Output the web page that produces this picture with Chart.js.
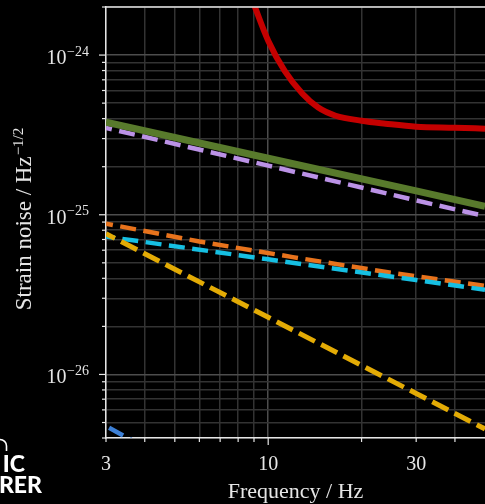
<!DOCTYPE html>
<html>
<head>
<meta charset="utf-8">
<script src="https://cdn.jsdelivr.net/npm/chart.js@4.4.1/dist/chart.umd.min.js"></script>
<style>
  html, body { margin: 0; padding: 0; background: #000; overflow: hidden; }
</style>
</head>
<body>
<canvas id="noiseChart" width="485" height="504"></canvas>
<script>
// strain noise curves (Hz, 1/sqrt(Hz))
const redFreq = [8.5, 9.08, 10, 11.3, 12.9, 14.5, 16.5, 20, 23.9, 30, 40, 50];
const redNoise = [2.8e-24, 1.98e-24, 1.23e-24, 7.97e-25, 5.73e-25, 4.69e-25, 4.17e-25, 3.88e-25, 3.72e-25, 3.56e-25, 3.51e-25, 3.46e-25];
const greenFreq = [3, 10, 30, 50];
const greenNoise = [3.8e-25, 2.26e-25, 1.41e-25, 1.13e-25];
const purpleFreq = [3, 10, 30, 50];
const purpleNoise = [3.5e-25, 2.03e-25, 1.23e-25, 9.8e-26];
const yellowFreq = [3, 10, 30, 50];
const yellowNoise = [7.6e-26, 2.28e-26, 7.6e-27, 4.56e-27];
const cyanFreq = [3, 10, 30, 50];
const cyanNoise = [7.3e-26, 5.26e-26, 3.9e-26, 3.39e-26];
const orangeFreq = [3, 6, 12, 24, 50];
const orangeNoise = [8.8e-26, 6.8e-26, 5.43e-26, 4.38e-26, 3.59e-26];
const blueFreq = [3, 4];
const blueNoise = [4.75e-27, 3.5e-27];

// axes
const xTicks = [3, 4, 5, 6, 7, 8, 9, 10, 20, 30, 40];
const xMajor = [10];
const xLabelValues = [3, 10, 30];
const xLabelText = ['3', '10', '30'];
const yMajor = [1e-26, 1e-25, 1e-24];
const yExponents = ['\u221226', '\u221225', '\u221224'];
const yTicks = [];
[1e-27, 1e-26, 1e-25, 1e-24].forEach(d => {
  for (let m = 1; m <= 9; m++) {
    const v = +(m * d).toPrecision(3);
    if (v >= 4e-27 && v <= 2e-24) yTicks.push(v);
  }
});

const xTitle = 'Frequency / Hz';
const yTitle = 'Strain noise / Hz';
const yTitleSup = '\u22121/2';

const axisColor = '#e6e6e6';
const gridMinor = '#333333';
const gridMajor = '#4d4d4d';
const serif = '"Liberation Serif", "Times New Roman", serif';

function pts(xs, ys) {
  return xs.map((f, i) => ({ x: f, y: ys[i] }));
}

const framePlugin = {
  id: 'framePlugin',
  afterDraw(chart) {
    const { ctx, chartArea: a, scales: { x, y } } = chart;
    ctx.save();
    // top frame line
    ctx.strokeStyle = axisColor;
    ctx.lineWidth = 1.5;
    ctx.beginPath();
    ctx.moveTo(a.left - 0.75, a.top);
    ctx.lineTo(a.right, a.top);
    ctx.stroke();

    // tick marks
    ctx.lineWidth = 1.2;
    y.ticks.forEach(t => {
      const py = y.getPixelForValue(t.value);
      const len = yMajor.includes(t.value) ? 7 : 4;
      ctx.beginPath();
      ctx.moveTo(a.left - len, py);
      ctx.lineTo(a.left, py);
      ctx.stroke();
    });
    x.ticks.forEach(t => {
      const px = x.getPixelForValue(t.value);
      const len = xMajor.includes(t.value) ? 7 : 4;
      ctx.beginPath();
      ctx.moveTo(px, a.bottom);
      ctx.lineTo(px, a.bottom + len);
      ctx.stroke();
    });

    // tick labels
    ctx.fillStyle = axisColor;
    ctx.textBaseline = 'alphabetic';
    ctx.font = '20px ' + serif;
    ctx.textAlign = 'center';
    xLabelValues.forEach((v, i) => {
      ctx.fillText(xLabelText[i], x.getPixelForValue(v), a.bottom + 32);
    });
    yMajor.forEach((v, i) => {
      const py = y.getPixelForValue(v);
      ctx.textAlign = 'right';
      ctx.font = '14px ' + serif;
      ctx.fillText(yExponents[i], 89, py + 0.7);
      const w = ctx.measureText(yExponents[i]).width;
      ctx.font = '20px ' + serif;
      ctx.fillText('10', 89 - w - 0.5, py + 9);
    });

    // axis titles
    ctx.font = '22px ' + serif;
    ctx.textAlign = 'center';
    ctx.fillText(xTitle, (a.left + a.right) / 2, 498);

    ctx.save();
    ctx.translate(30.5, 219);
    ctx.rotate(-Math.PI / 2);
    ctx.font = '23px ' + serif;
    const mainW = ctx.measureText(yTitle).width;
    ctx.font = '15px ' + serif;
    const supW = ctx.measureText(yTitleSup).width;
    const start = -(mainW + supW + 1) / 2;
    ctx.textAlign = 'left';
    ctx.font = '23px ' + serif;
    ctx.fillText(yTitle, start, 0);
    ctx.font = '15px ' + serif;
    ctx.fillText(yTitleSup, start + mainW + 1, -8);
    ctx.restore();

    // corner logo fragment
    ctx.fillStyle = '#ffffff';
    ctx.strokeStyle = '#ffffff';
    ctx.lineWidth = 1.6;
    ctx.beginPath();
    ctx.arc(0, 446, 6.5, -Math.PI / 2, 0);
    ctx.lineTo(6.5, 451);
    ctx.stroke();
    ctx.font = '900 23px Lato, "Open Sans", sans-serif';
    ctx.textAlign = 'right';
    ctx.fillText('IC', 25, 471.5);
    ctx.fillText('RER', 42, 493);
    ctx.restore();
  }
};

function lineSet(data, color, width, dash, offset) {
  return {
    data: data,
    borderColor: color,
    borderWidth: width,
    borderDash: dash,
    borderDashOffset: offset,
    borderCapStyle: 'butt',
    borderJoinStyle: 'round',
    pointRadius: 0,
    fill: false,
    clip: 0
  };
}

const ctx = document.getElementById('noiseChart').getContext('2d');
const chart = new Chart(ctx, {
  type: 'line',
  data: {
    datasets: [
      Object.assign(lineSet(pts(redFreq, redNoise), '#c40000', 6, [], 0), { cubicInterpolationMode: 'monotone' }),
      lineSet(pts(greenFreq, greenNoise), '#587a2c', 7, [], 0),
      lineSet(pts(purpleFreq, purpleNoise), '#bb92e6', 4.5, [16, 7.5], 10),
      lineSet(pts(yellowFreq, yellowNoise), '#e3ab05', 5, [18, 7], 8),
      lineSet(pts(cyanFreq, cyanNoise), '#16bfe2', 4.5, [16, 7.5], 7),
      lineSet(pts(orangeFreq, orangeNoise), '#e8731c', 4.5, [16, 7.5], 9),
      lineSet(pts(blueFreq, blueNoise), '#3d80d6', 4.5, [16, 7.5], 20)
    ]
  },
  options: {
    responsive: false,
    animation: false,
    devicePixelRatio: 1,
    layout: { padding: { top: 7, right: 0, bottom: 0, left: 0 } },
    plugins: { legend: { display: false }, tooltip: { enabled: false } },
    scales: {
      x: {
        type: 'logarithmic',
        min: 3,
        max: 50,
        afterBuildTicks: s => { s.ticks = xTicks.map(v => ({ value: v })); },
        afterFit: s => { s.height = 66; },
        ticks: { display: false },
        grid: {
          drawTicks: false,
          lineWidth: 1.5,
          color: c => (c.tick && xMajor.includes(c.tick.value)) ? gridMajor : gridMinor
        },
        border: { display: true, color: axisColor, width: 1.5 }
      },
      y: {
        type: 'logarithmic',
        min: 4e-27,
        max: 2e-24,
        afterBuildTicks: s => { s.ticks = yTicks.map(v => ({ value: v })); },
        afterFit: s => { s.width = 106; },
        ticks: { display: false },
        grid: {
          drawTicks: false,
          lineWidth: 1.5,
          color: c => (c.tick && yMajor.includes(c.tick.value)) ? gridMajor : gridMinor
        },
        border: { display: true, color: axisColor, width: 1.5 }
      }
    }
  },
  plugins: [framePlugin]
});
</script>
</body>
</html>
